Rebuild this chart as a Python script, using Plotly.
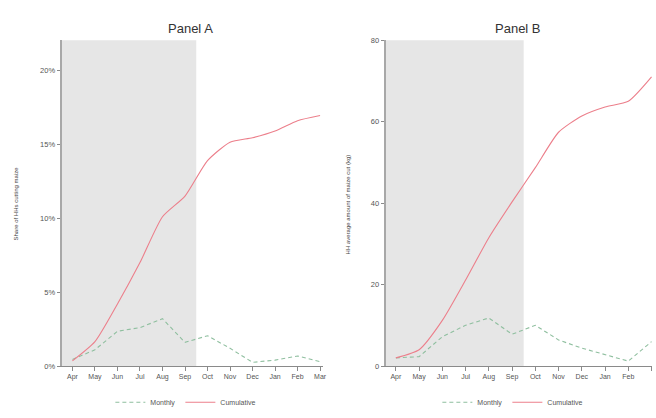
import plotly.graph_objects as go

months = ["Apr", "May", "Jun", "Jul", "Aug", "Sep", "Oct", "Nov", "Dec", "Jan", "Feb", "Mar"]

# Panel A: share of households (fraction)
a_monthly = [0.0045, 0.0110, 0.0235, 0.0260, 0.0320, 0.0160, 0.0205, 0.0120, 0.0025, 0.0040, 0.0068, 0.0030]
a_cumulative = [0.0035, 0.0165, 0.0420, 0.0700, 0.1010, 0.1150, 0.1390, 0.1515, 0.1545, 0.1590, 0.1660, 0.1695]

# Panel B: average amount (kg)
b_monthly = [2.0, 2.3, 7.2, 10.0, 11.8, 7.8, 10.0, 6.4, 4.4, 2.8, 1.2, 6.0]
b_cumulative = [2.0, 4.0, 11.2, 21.1, 31.5, 40.3, 48.7, 57.4, 61.4, 63.6, 65.0, 71.0]

shade_end = 5.5  # between Sep and Oct

mon_color = "#8fbf9f"
cum_color = "#ec7f8b"
axis_color = "#8a8a8a"
font_family = "Liberation Sans, Arial, sans-serif"

W, H = 656, 418


def px(wx):
    return wx / W


def py(wy):
    return (H - wy) / H


x = list(range(len(months)))

fig = go.Figure()
fig.add_trace(go.Scatter(x=x, y=a_monthly, mode="lines", name="Monthly",
                         line=dict(color=mon_color, width=1.1, dash="4px,3px"),
                         xaxis="x", yaxis="y", legend="legend"))
fig.add_trace(go.Scatter(x=x, y=a_cumulative, mode="lines", name="Cumulative",
                         line=dict(color=cum_color, width=1.1, shape="spline", smoothing=0.6),
                         xaxis="x", yaxis="y", legend="legend"))
fig.add_trace(go.Scatter(x=x, y=b_monthly, mode="lines", name="Monthly",
                         line=dict(color=mon_color, width=1.1, dash="4px,3px"),
                         xaxis="x2", yaxis="y2", legend="legend2"))
fig.add_trace(go.Scatter(x=x, y=b_cumulative, mode="lines", name="Cumulative",
                         line=dict(color=cum_color, width=1.1, shape="spline", smoothing=0.6),
                         xaxis="x2", yaxis="y2", legend="legend2"))

ydom = [py(370), py(37)]

common_x = dict(tickmode="array", tickvals=x, ticktext=months, showgrid=False, zeroline=False,
                showline=True, linecolor=axis_color, linewidth=1, ticks="outside", ticklen=4,
                tickcolor=axis_color, tickfont=dict(size=7, color="#555", family=font_family),
                fixedrange=True)
common_y = dict(showgrid=False, zeroline=False, showline=True, linecolor="#a8a8a8", linewidth=2,
                ticks="outside", ticklen=3, tickcolor=axis_color,
                tickfont=dict(size=7.5, color="#555", family=font_family), fixedrange=True)

fig.update_layout(
    width=W, height=H,
    margin=dict(l=0, r=0, t=0, b=0),
    paper_bgcolor="white", plot_bgcolor="white",
    font=dict(family=font_family, color="#333"),
    hovermode=False,
    xaxis=dict(domain=[px(62), px(325)], range=[-0.48, 11.13], anchor="y", **common_x),
    yaxis=dict(domain=ydom, range=[0, 0.2205], tickvals=[0, 0.05, 0.10, 0.15, 0.20],
               tickformat=".0%", anchor="x", **common_y),
    xaxis2=dict(domain=[px(388), 1.0], range=[-0.44, 11.02], anchor="y2", **common_x),
    yaxis2=dict(domain=ydom, range=[0, 80], tickvals=[0, 20, 40, 60, 80], anchor="x2", **common_y),
    legend=dict(orientation="h", x=px(187), y=py(407), xanchor="center", yanchor="middle",
                font=dict(size=7, color="#555", family=font_family), bgcolor="rgba(0,0,0,0)"),
    legend2=dict(orientation="h", x=px(516), y=py(407), xanchor="center", yanchor="middle",
                 font=dict(size=7, color="#555", family=font_family), bgcolor="rgba(0,0,0,0)"),
    shapes=[
        dict(type="rect", xref="x", yref="y domain", x0=-0.48, x1=shade_end, y0=0, y1=1,
             fillcolor="#e6e6e6", line=dict(width=0), layer="below"),
        dict(type="rect", xref="x2", yref="y2 domain", x0=-0.44, x1=shade_end, y0=0, y1=1,
             fillcolor="#e6e6e6", line=dict(width=0), layer="below"),
    ],
    annotations=[
        dict(text="Panel A", x=px(192), y=py(25), xref="paper", yref="paper",
             showarrow=False, font=dict(size=13, color="#333", family=font_family),
             xanchor="center", yanchor="middle"),
        dict(text="Panel B", x=px(521), y=py(25), xref="paper", yref="paper",
             showarrow=False, font=dict(size=13, color="#333", family=font_family),
             xanchor="center", yanchor="middle"),
        dict(text="Share of HHs cutting maize", x=px(16), y=py(204), xref="paper", yref="paper",
             showarrow=False, textangle=-90, font=dict(size=6, color="#444", family=font_family),
             xanchor="center", yanchor="middle"),
        dict(text="HH average amount of maize cut (kg)", x=px(350), y=py(205), xref="paper",
             yref="paper", showarrow=False, textangle=-90,
             font=dict(size=6, color="#444", family=font_family),
             xanchor="center", yanchor="middle"),
    ],
)

fig.write_html("out.html", config={"displayModeBar": False, "staticPlot": True},
               post_script="document.body.style.margin='0';document.body.style.overflow='hidden';")
